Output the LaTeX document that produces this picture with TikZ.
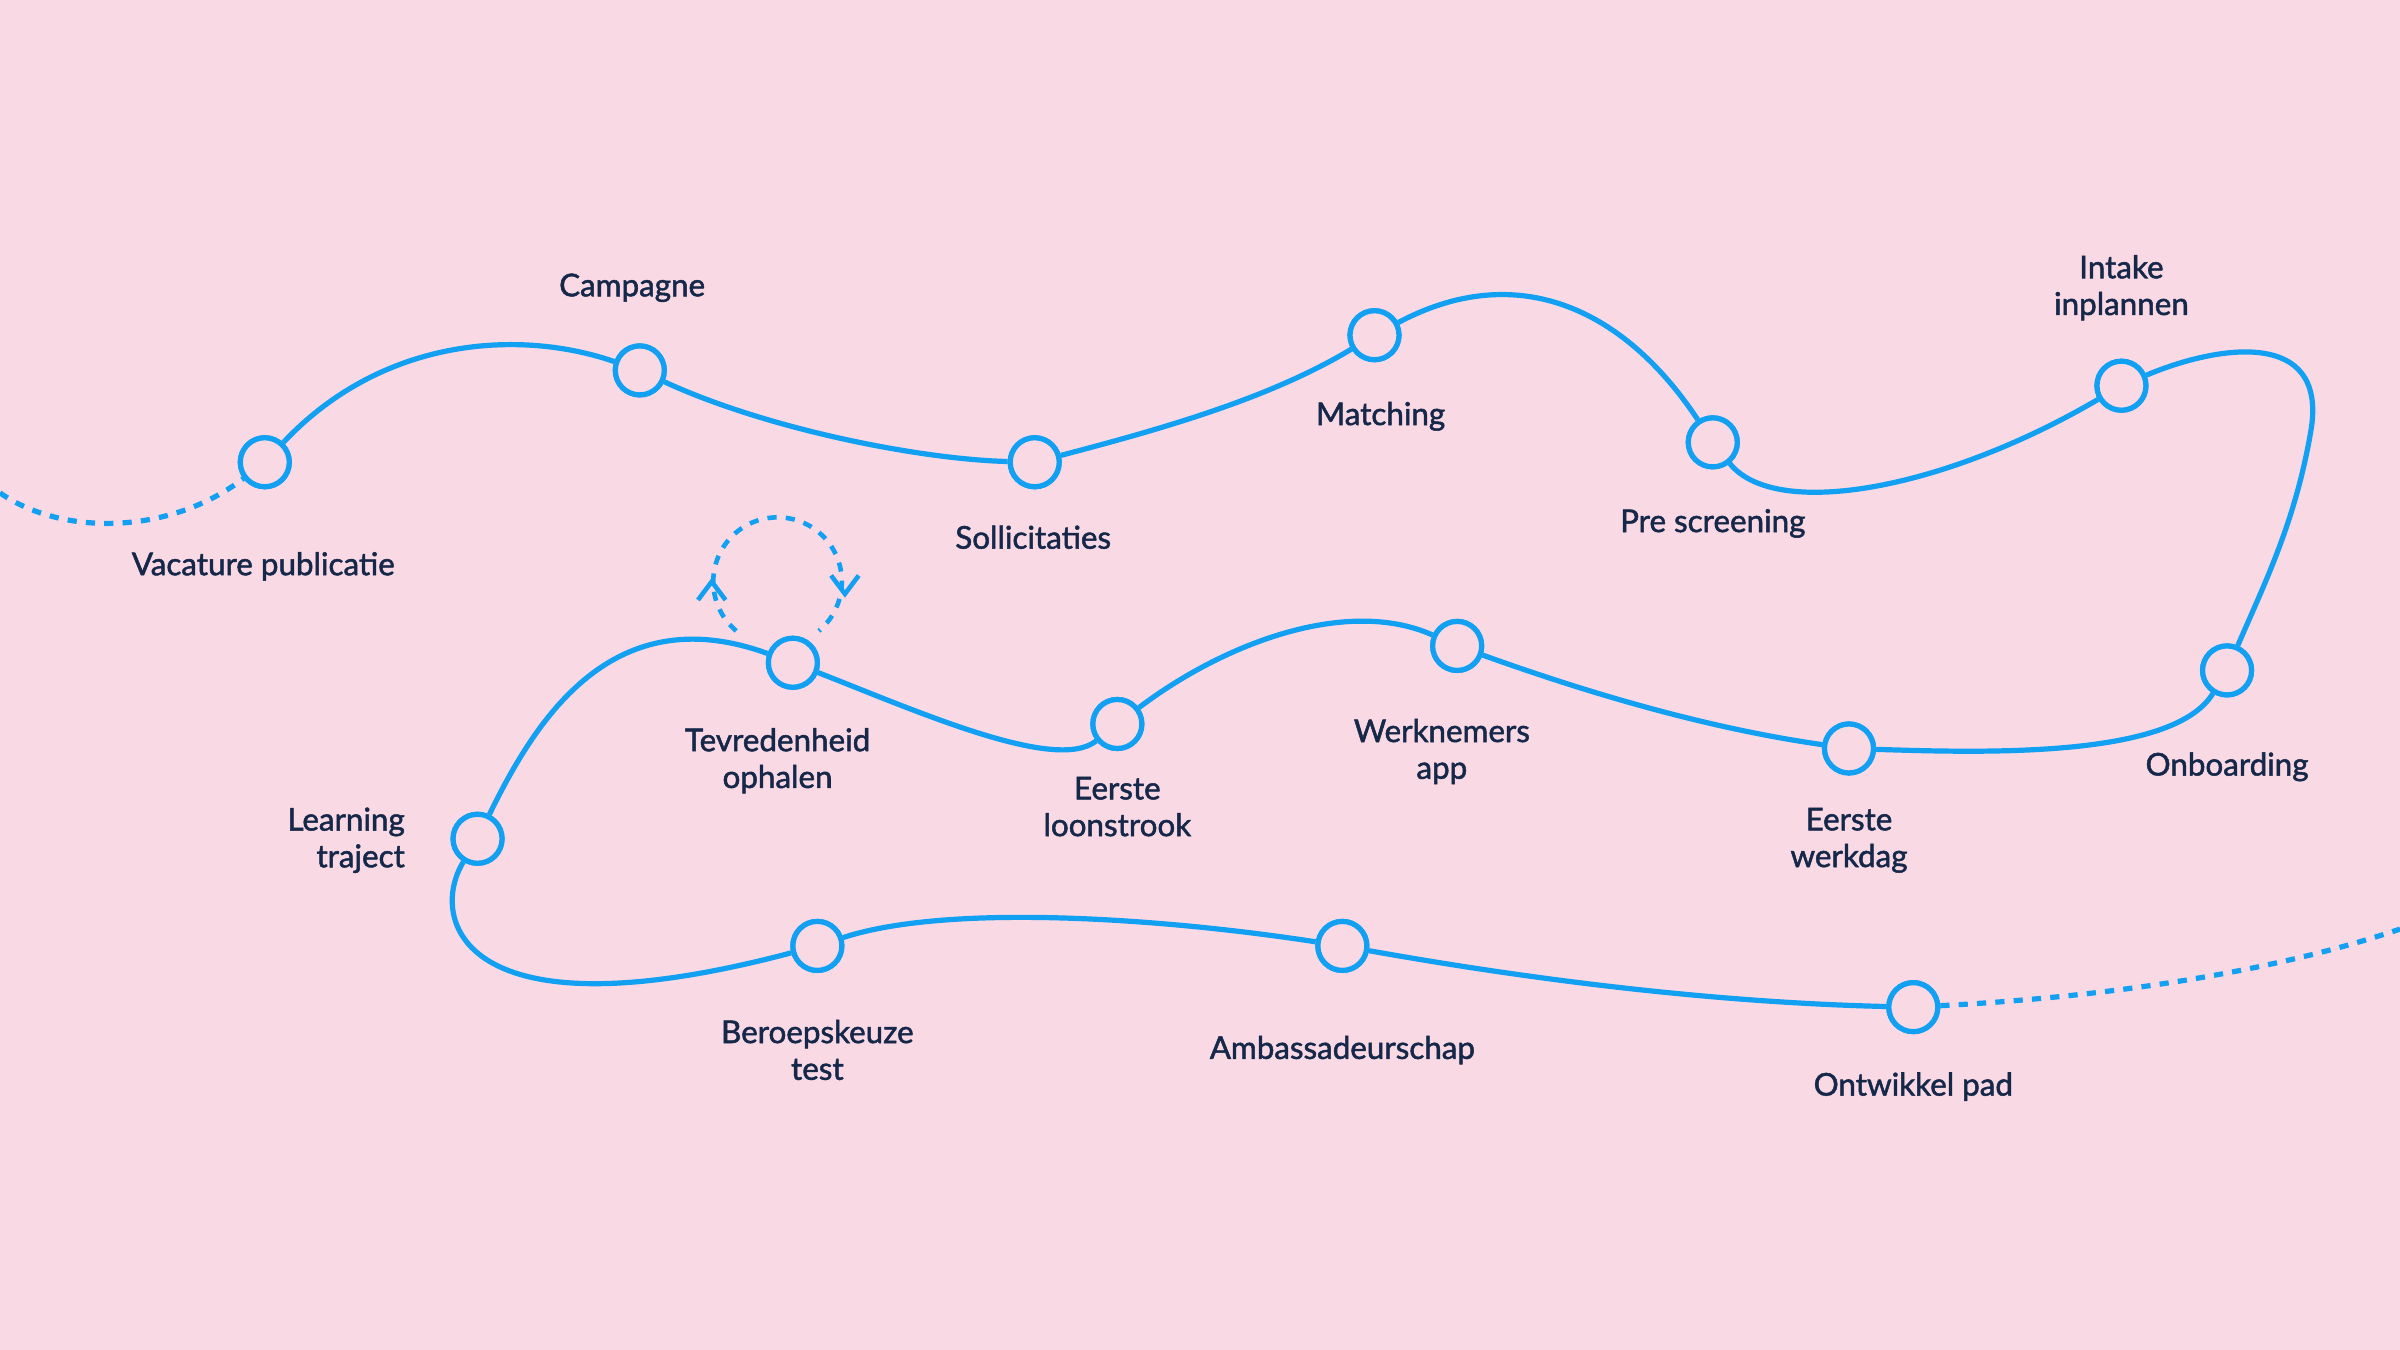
\documentclass[tikz,border=0pt]{standalone}
\usepackage{fontspec}
\setmainfont{Lato}[RawFeature={embolden=1.6}]
\definecolor{bg}{HTML}{F9D9E4}
\definecolor{bl}{HTML}{12A0F2}
\definecolor{tx}{HTML}{16284A}
\begin{document}
\begin{tikzpicture}[x=1pt,y=-1pt,
  st/.style={circle,draw=bl,line width=3.4pt,minimum size=32pt,inner sep=0pt,fill=bg},
  lb/.style={text=tx,font=\fontsize{20.5}{24}\selectfont,align=center},
  ln/.style={draw=bl,line width=3.4pt},
  dl/.style={ln,dash pattern=on 6pt off 6pt}]
\fill[bg] (0,0) rectangle (1568,882);
\useasboundingbox (0,0) rectangle (1568,882);
\coordinate (s) at (0,322);
\coordinate (e) at (1568,607);
\node[st] (n1) at (173,302) {};
\node[st] (n2) at (418,242) {};
\node[st] (n3) at (676,302) {};
\node[st] (n4) at (898,219) {};
\node[st] (n5) at (1119,289) {};
\node[st] (n6) at (1386,252) {};
\node[st] (n7) at (1455,438) {};
\node[st] (n8) at (1208,489) {};
\node[st] (n9) at (952,422) {};
\node[st] (n10) at (730,473) {};
\node[st] (n11) at (518,433) {};
\node[st] (n12) at (312,548) {};
\node[st] (n13) at (534,618) {};
\node[st] (n14) at (877,618) {};
\node[st] (n15) at (1250,658) {};
\draw[dl] (s) .. controls (40,350) and (110,350) .. (n1);
\draw[ln] (n1) .. controls (250,220) and (340,215) .. (n2);
\draw[ln] (n2) .. controls (500,280) and (600,300) .. (n3);
\draw[ln] (n3) .. controls (760,280) and (830,260) .. (n4);
\draw[ln] (n4) .. controls (990,170) and (1060,200) .. (n5);
\draw[ln] (n5) .. controls (1160,340) and (1270,320) .. (n6);
\draw[ln] (n6) .. controls (1450,225) and (1520,215) .. (1510,280) .. controls (1500,340) and (1480,380) .. (n7);
\draw[ln] (n7) .. controls (1420,495) and (1300,492) .. (n8);
\draw[ln] (n8) .. controls (1110,475) and (1030,450) .. (n9);
\draw[ln] (n9) .. controls (880,390) and (800,420) .. (n10);
\draw[ln] (n10) .. controls (690,505) and (600,465) .. (n11);
\draw[ln] (n11) .. controls (400,390) and (350,470) .. (n12);
\draw[ln] (n12) .. controls (280,600) and (300,680) .. (n13);
\draw[ln] (n13) .. controls (620,590) and (760,600) .. (n14);
\draw[ln] (n14) .. controls (1000,640) and (1120,655) .. (n15);
\draw[dl] (n15) .. controls (1400,650) and (1500,630) .. (e);
\foreach \i in {1,...,15}{\node[st] at (n\i) {};}
\draw[dl,line width=3pt] ([shift={(130:42)}]508,380) arc[start angle=130,end angle=410,radius=42];
\draw[bl,line width=3pt] (456,392) -- (465,380) -- (474,392);
\draw[bl,line width=3pt] (543,376) -- (552,388) -- (561,376);
\node[lb] at (172,370) {Vacature publicatie};
\node[lb] at (413,188) {Campagne};
\node[lb] at (675,351) {Sollicitaties};
\node[lb] at (902,272) {Matching};
\node[lb] at (1119,342) {Pre screening};
\node[lb] at (1386,188) {Intake\\inplannen};
\node[lb] at (1455,501) {Onboarding};
\node[lb] at (1208,549) {Eerste\\werkdag};
\node[lb] at (942,491) {Werknemers\\app};
\node[lb] at (730,527) {Eerste\\loonstrook};
\node[lb] at (508,497) {Tevredenheid\\ophalen};
\node[lb,align=right,anchor=east] at (268,549) {Learning\\traject};
\node[lb] at (534,686) {Beroepskeuze\\test};
\node[lb] at (877,686) {Ambassadeurschap};
\node[lb] at (1250,710) {Ontwikkel pad};
\end{tikzpicture}
\end{document}
